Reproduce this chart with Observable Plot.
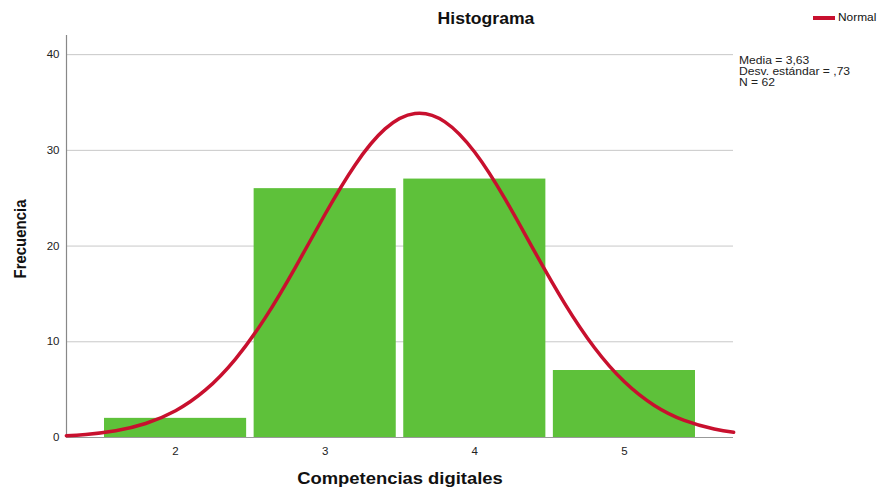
<!DOCTYPE html>
<html>
<head>
<meta charset="utf-8">
<script src="https://cdn.jsdelivr.net/npm/d3@7"></script>
<script src="https://cdn.jsdelivr.net/npm/@observablehq/plot@0.6"></script>
<style>
  html, body { margin: 0; padding: 0; background: #fff; }
  #wrap { position: relative; width: 877px; height: 489px; font-family: Arial, "Liberation Sans", sans-serif; overflow: hidden; }
  #wrap svg { position: absolute; left: 0; top: 0; }
  .t { position: absolute; white-space: nowrap; color: #111; }
</style>
</head>
<body>
<div id="wrap">
  <div class="t" id="title" style="left:486px; top:10px; transform:translateX(-50%) scaleX(1.1); font-weight:bold; font-size:16px;">Histograma</div>
  <div class="t" id="xlab" style="left:400px; top:470px; transform:translateX(-50%) scaleX(1.15); font-weight:bold; font-size:16px;">Competencias digitales</div>
  <div class="t" id="ylab" style="left:21px; top:239px; transform:translate(-50%,-50%) rotate(-90deg) scaleX(0.88); font-weight:bold; font-size:17px;">Frecuencia</div>
  <div class="t" style="left:813px; top:16px; width:22px; height:4px; background:#C8102E;"></div>
  <div class="t" style="left:838px; top:11px; font-size:11px; transform-origin:left center; transform:scaleX(1.08);">Normal</div>
  <div class="t" id="stats" style="left:739px; top:55px; font-size:11px; line-height:11px; color:#222; transform-origin:left top; transform:scaleX(1.1);">Media = 3,63<br>Desv. estándar = ,73<br>N = 62</div>
</div>
<script>
const categories = [2, 3, 4, 5];
const frequencies = [2, 26, 27, 7];
const yTicks = [0, 10, 20, 30, 40];

// Normal curve
const curveX = [1.27, 1.4, 1.6, 1.8, 2.0, 2.2, 2.4, 2.6, 2.8, 3.0, 3.2, 3.4, 3.6, 3.8, 4.0, 4.2, 4.4, 4.6, 4.8, 5.0, 5.2, 5.4, 5.6, 5.73];
const curveY = [0.18, 0.32, 0.71, 1.46, 2.8, 4.97, 8.2, 12.52, 17.75, 23.35, 28.48, 32.24, 33.85, 32.98, 29.8, 24.98, 19.42, 14.02, 9.38, 5.82, 3.35, 1.79, 0.89, 0.54];

const bars = categories.map((c, i) => ({v: c, n: frequencies[i]}));
const curve = curveX.map((x, i) => ({x, y: curveY[i]}));

const xMin = 1.271, xMax = 5.729;

const chart = Plot.plot({
  width: 877,
  height: 489,
  marginLeft: 66,
  marginRight: 144,
  marginTop: 35,
  marginBottom: 52,
  style: {fontFamily: "Arial, 'Liberation Sans', sans-serif", fontSize: "11px", color: "#222", background: "transparent"},
  x: {domain: [xMin, xMax]},
  y: {domain: [0, 42]},
  marks: [
    Plot.gridY(yTicks.filter(d => d > 0), {stroke: "#c8c8c8", strokeOpacity: 1, strokeWidth: 1}),
    Plot.rectY(bars, {x1: d => d.v - 0.5, x2: d => d.v + 0.5, y: "n", fill: "#5EC13A", insetLeft: 3.75, insetRight: 3.75}),
    Plot.ruleY([0], {stroke: "#999", strokeWidth: 1.2}),
    Plot.ruleX([xMin], {stroke: "#888", strokeWidth: 1.2}),
    Plot.line(curve, {x: "x", y: "y", stroke: "#C8102E", strokeWidth: 3.5, curve: "natural"}),
    Plot.axisY({ticks: yTicks, tickFormat: d3.format("d"), tickSize: 0, tickPadding: 7, label: null, fontSize: 11.5}),
    Plot.axisX({ticks: categories, tickFormat: d3.format("d"), tickSize: 0, tickPadding: 9, label: null, fontSize: 11.5})
  ]
});
document.getElementById("wrap").prepend(chart);
</script>
</body>
</html>
